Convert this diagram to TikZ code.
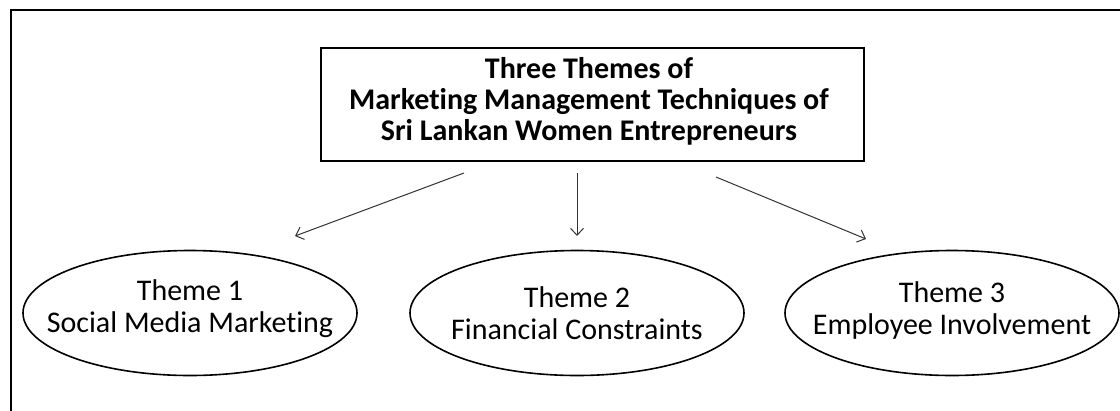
\documentclass[tikz,border=0pt]{standalone}
\usepackage{fontspec}
\setmainfont[Ligatures=NoCommon]{Carlito}
\usetikzlibrary{shapes.geometric,arrows.meta}
\begin{document}
\begin{tikzpicture}[x=1pt,y=-1pt,
  titlebox/.style={draw, line width=1.8pt, minimum width=543pt, minimum height=113pt, inner sep=0pt},
  titletext/.style={align=center, font=\fontsize{30}{31}\selectfont\bfseries, inner sep=0pt},
  themebubble/.style={draw, ellipse, line width=1.6pt, minimum width=334pt, minimum height=125pt, inner sep=0pt},
  themetext/.style={align=center, font=\fontsize{30}{32}\selectfont, inner sep=0pt},
  link/.style={line width=1pt, draw=black!80, -{Straight Barb[length=7pt,width=13pt,line width=1pt]}}
]
\useasboundingbox (0,0) rectangle (1120,410);
\clip (0,0) rectangle (1120,410);
% outer frame (runs past the right and bottom edges)
\draw[line width=1.8pt] (11,10) rectangle (1150,440);

% heading box
\node[titlebox] (title) at (592.5,104.5) {};
\node[titletext] (titlelabel) at (589,101) {Three Themes of\\Marketing Management Techniques of\\Sri Lankan Women Entrepreneurs};

% theme bubbles
\node[themebubble] (t1) at (190,313) {};
\node[themebubble] (t2) at (577,313) {};
\node[themebubble] (t3) at (952,313) {};
\node[themetext] (t1label) at (190,309) {Theme 1\\Social Media Marketing};
\node[themetext] (t2label) at (577,313) {Theme 2\\Financial Constraints};
\node[themetext] (t3label) at (952,310) {Theme 3\\Employee Involvement};

% arrow end points
\coordinate (s1) at (464,173);
\coordinate (e1) at (295,236);
\coordinate (s2) at (577,173);
\coordinate (e2) at (577,236);
\coordinate (s3) at (716,177);
\coordinate (e3) at (866,239);

\draw[link] (s1) -- (e1);
\draw[link] (s2) -- (e2);
\draw[link] (s3) -- (e3);
\end{tikzpicture}
\end{document}
